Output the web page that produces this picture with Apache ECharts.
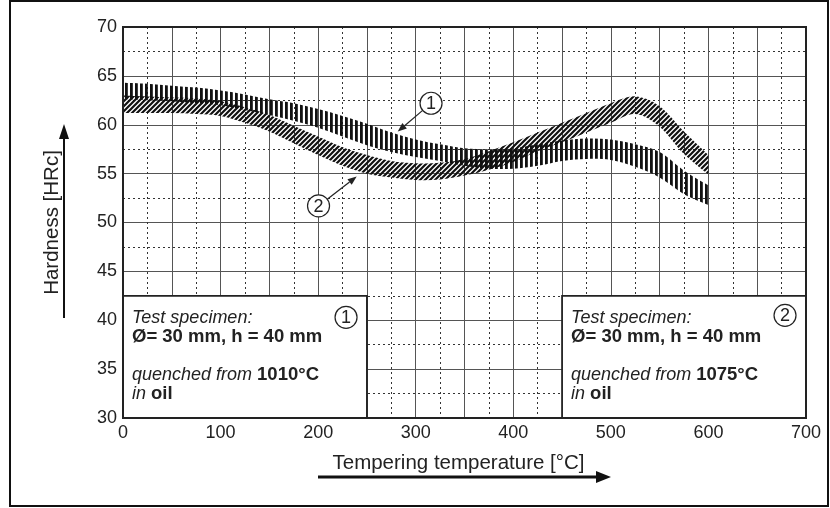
<!DOCTYPE html>
<html>
<head>
<meta charset="utf-8">
<script src="https://cdn.jsdelivr.net/npm/echarts@6/dist/echarts.min.js"></script>
<style>
  html, body { margin: 0; padding: 0; background: #fff; }
  #chart { width: 830px; height: 508px; }
</style>
</head>
<body>
<div id="chart"></div>
<script>
// ---- data ----
const temps = [0,25,50,75,100,125,150,175,200,225,250,275,300,325,350,375,400,425,450,475,500,525,550,575,600];
// band 1 : quenched from 1010°C (vertical hatching)
const band1Low  = [62.6,62.5,62.4,62.2,62.0,61.5,61.0,60.4,59.7,58.8,57.9,57.2,56.7,56.3,55.8,55.5,55.5,55.8,56.3,56.5,56.4,55.7,54.6,52.9,51.8];
const band1High = [64.3,64.2,64.0,63.8,63.5,63.1,62.6,62.2,61.6,60.9,60.1,59.2,58.5,58.0,57.6,57.5,57.6,58.0,58.4,58.6,58.5,58.0,57.2,55.3,53.8];
// band 2 : quenched from 1075°C (diagonal hatching)
const band2Low  = [61.2,61.2,61.2,61.1,60.9,60.2,59.3,58.1,56.9,55.8,55.0,54.6,54.35,54.4,54.8,55.4,56.2,57.3,58.2,59.2,60.2,61.1,59.8,57.0,54.9];
const band2High = [63.0,62.9,62.8,62.7,62.4,61.8,61.0,59.9,58.8,57.7,56.9,56.3,56.05,56.1,56.5,57.3,58.2,59.2,60.2,61.2,62.2,62.9,61.9,59.3,56.9];

const xTicks = [0,100,200,300,400,500,600,700];
const yTicks = [30,35,40,45,50,55,60,65,70];

// annotation boxes (data space)
const boxRanges = [[0,250],[450,700]];
const boxTop = 42.5;
const boxNums = ['1','2'];
const boxTemps = ['1010°C','1075°C'];
const boxNumPos = [[228.6,40.3],[678.5,40.5]];

// call-outs on the curves
const calloutNums = ['1','2'];
const calloutCenters = [[315.7,62.2],[200.4,51.7]];
const calloutTips = [[281.6,59.3],[239.5,54.7]];

// ---- hatch patterns ----
function vertPattern() {
  const c = document.createElement('canvas');
  c.width = 5; c.height = 4;
  const g = c.getContext('2d');
  g.fillStyle = '#111';
  g.fillRect(0, 0, 2.8, 4);
  return c;
}
function diagPattern() {
  const c = document.createElement('canvas');
  const s = 5;
  c.width = s; c.height = s;
  const g = c.getContext('2d');
  g.strokeStyle = '#111';
  g.lineWidth = 2.2;
  g.beginPath();
  g.moveTo(-1, 1); g.lineTo(1, -1);
  g.moveTo(0, s); g.lineTo(s, 0);
  g.moveTo(s - 1, s + 1); g.lineTo(s + 1, s - 1);
  g.stroke();
  return c;
}
const patterns = [vertPattern(), diagPattern()];
const bands = [[band1Low, band1High], [band2Low, band2High]];

const FONT = 'Liberation Sans';
const TXT = '#222';

// smooth path through pixel points (Catmull-Rom -> cubic Bezier)
function smoothSegs(pts) {
  let d = '';
  for (let i = 0; i < pts.length - 1; i++) {
    const p0 = pts[Math.max(i - 1, 0)], p1 = pts[i], p2 = pts[i + 1], p3 = pts[Math.min(i + 2, pts.length - 1)];
    const c1 = [p1[0] + (p2[0] - p0[0]) / 6, p1[1] + (p2[1] - p0[1]) / 6];
    const c2 = [p2[0] - (p3[0] - p1[0]) / 6, p2[1] - (p3[1] - p1[1]) / 6];
    d += ' C' + c1[0].toFixed(2) + ',' + c1[1].toFixed(2) + ' ' + c2[0].toFixed(2) + ',' + c2[1].toFixed(2) + ' ' + p2[0].toFixed(2) + ',' + p2[1].toFixed(2);
  }
  return d;
}

const chart = echarts.init(document.getElementById('chart'), null, { renderer: 'canvas' });

const option = {
  animation: false,
  backgroundColor: '#fff',
  textStyle: { fontFamily: FONT },
  grid: { left: 123, top: 27, right: 24, bottom: 90, show: false },
  xAxis: {
    type: 'value', min: 0, max: 700, interval: 50,
    name: 'Tempering temperature [°C]',
    nameLocation: 'middle', nameGap: 35,
    nameTextStyle: { fontSize: 20.5, color: TXT, fontFamily: FONT, padding: [0, 12, 0, 0] },
    axisLine: { show: false },
    axisTick: { show: false },
    axisLabel: {
      fontSize: 18, color: TXT, fontFamily: FONT, margin: 6,
      formatter: v => (xTicks.indexOf(v) >= 0 ? String(v) : '')
    },
    splitLine: { show: true, lineStyle: { color: '#555', width: 1 } },
    minorTick: { show: false, splitNumber: 2 },
    minorSplitLine: { show: true, lineStyle: { color: '#333', width: 1, type: [2, 3] } }
  },
  yAxis: {
    type: 'value', min: 30, max: 70, interval: 5,
    name: 'Hardness [HRc]',
    nameLocation: 'middle', nameGap: 60, nameRotate: 90,
    nameTextStyle: { fontSize: 20.5, color: TXT, fontFamily: FONT },
    axisLine: { show: false },
    axisTick: { show: false },
    axisLabel: {
      fontSize: 18, color: TXT, fontFamily: FONT, margin: 6,
      formatter: v => (yTicks.indexOf(v) >= 0 ? String(v) : '')
    },
    splitLine: { show: true, lineStyle: { color: '#555', width: 1 } },
    minorTick: { show: false, splitNumber: 2 },
    minorSplitLine: { show: true, lineStyle: { color: '#333', width: 1, type: [2, 3] } }
  },
  series: [
    {
      // hatched hardness bands
      type: 'custom', name: 'bands', silent: true, clip: true,
      data: [[0, 0], [1, 1]],
      encode: { x: 0, y: 1 },
      renderItem: function (params, api) {
        const b = api.value(0);
        const lo = bands[b][0], hi = bands[b][1];
        const up = temps.map((t, i) => api.coord([t, hi[i]]));
        const dn = temps.map((t, i) => api.coord([t, lo[i]])).reverse();
        let d = 'M' + up[0][0].toFixed(2) + ',' + up[0][1].toFixed(2) + smoothSegs(up);
        d += ' L' + dn[0][0].toFixed(2) + ',' + dn[0][1].toFixed(2) + smoothSegs(dn) + ' Z';
        return {
          type: 'path',
          shape: { pathData: d },
          style: { fill: { image: patterns[b], repeat: 'repeat' }, stroke: null }
        };
      }
    },
    {
      // info boxes
      type: 'custom', name: 'boxes', silent: true, clip: false,
      data: boxRanges.map((r, i) => [r[0], boxTop, r[1], i]),
      encode: { x: 0, y: 1 },
      renderItem: function (params, api) {
        const i = api.value(3);
        const p0 = api.coord([api.value(0), api.value(1)]);
        const p1 = api.coord([api.value(2), 30]);
        const nc = api.coord(boxNumPos[i]);
        return {
          type: 'group',
          children: [
            { type: 'rect', shape: { x: p0[0], y: p0[1], width: p1[0] - p0[0], height: p1[1] - p0[1] },
              style: { fill: '#fff', stroke: '#222', lineWidth: 1.8 } },
            { type: 'text', x: p0[0] + 9, y: p0[1] + 13,
              style: {
                text: '{i|Test specimen:}\n{b|Ø= 30 mm, h = 40 mm}\n{i| }\n{i|quenched from }{b|' + boxTemps[i] + '}\n{i|in }{b|oil}',
                fontFamily: FONT, fontSize: 18, lineHeight: 19, fill: TXT,
                rich: {
                  i: { fontStyle: 'italic', fontSize: 18, lineHeight: 19, fontFamily: FONT, fill: TXT },
                  b: { fontWeight: 'bold', fontSize: 18.5, lineHeight: 19, fontFamily: FONT, fill: TXT }
                }
              } },
            { type: 'circle', shape: { cx: nc[0], cy: nc[1], r: 11 },
              style: { fill: '#fff', stroke: '#222', lineWidth: 1.2 } },
            { type: 'text', x: nc[0], y: nc[1] + 1,
              style: { text: boxNums[i], fontFamily: FONT, fontSize: 18, fill: TXT, align: 'center', verticalAlign: 'middle' } }
          ]
        };
      }
    },
    {
      // call-outs
      type: 'custom', name: 'callouts', silent: true, clip: false,
      data: calloutCenters.map((c, i) => [c[0], c[1], calloutTips[i][0], calloutTips[i][1], i]),
      encode: { x: 0, y: 1 },
      renderItem: function (params, api) {
        const i = api.value(4);
        const c = api.coord([api.value(0), api.value(1)]);
        const t = api.coord([api.value(2), api.value(3)]);
        const dx = t[0] - c[0], dy = t[1] - c[1];
        const L = Math.hypot(dx, dy), ux = dx / L, uy = dy / L;
        const r = 11, hl = 9, hw = 3.5;
        const s = [c[0] + ux * r, c[1] + uy * r];
        const b = [t[0] - ux * hl, t[1] - uy * hl];
        return {
          type: 'group',
          children: [
            { type: 'line', shape: { x1: s[0], y1: s[1], x2: b[0], y2: b[1] },
              style: { stroke: '#222', lineWidth: 1.2 } },
            { type: 'polygon', shape: { points: [t, [b[0] - uy * hw, b[1] + ux * hw], [b[0] + uy * hw, b[1] - ux * hw]] },
              style: { fill: '#222' } },
            { type: 'circle', shape: { cx: c[0], cy: c[1], r: r },
              style: { fill: '#fff', stroke: '#222', lineWidth: 1.2 } },
            { type: 'text', x: c[0], y: c[1] + 1,
              style: { text: calloutNums[i], fontFamily: FONT, fontSize: 18, fill: TXT, align: 'center', verticalAlign: 'middle' } }
          ]
        };
      }
    },
    {
      // plot frame
      type: 'custom', name: 'frame', silent: true, clip: false,
      data: [[0, 70, 700, 30]],
      encode: { x: 0, y: 1 },
      renderItem: function (params, api) {
        const a = api.coord([api.value(0), api.value(1)]);
        const b = api.coord([api.value(2), api.value(3)]);
        return { type: 'rect', shape: { x: a[0], y: a[1], width: b[0] - a[0], height: b[1] - a[1] },
          style: { fill: null, stroke: '#222', lineWidth: 2 } };
      }
    }
  ],
  graphic: [
    // outer frame
    { type: 'rect', shape: { x: 10, y: 1, width: 818, height: 505 },
      style: { fill: null, stroke: '#111', lineWidth: 2 }, silent: true },
    // y-axis arrow
    { type: 'line', shape: { x1: 64, y1: 318, x2: 64, y2: 137 }, style: { stroke: '#111', lineWidth: 2 }, silent: true },
    { type: 'polygon', shape: { points: [[59, 139], [64, 124], [69, 139]] }, style: { fill: '#111' }, silent: true },
    // x-axis arrow
    { type: 'line', shape: { x1: 318, y1: 477, x2: 598, y2: 477 }, style: { stroke: '#111', lineWidth: 3 }, silent: true },
    { type: 'polygon', shape: { points: [[596, 471], [611, 477], [596, 483]] }, style: { fill: '#111' }, silent: true }
  ]
};

chart.setOption(option);
</script>
</body>
</html>
